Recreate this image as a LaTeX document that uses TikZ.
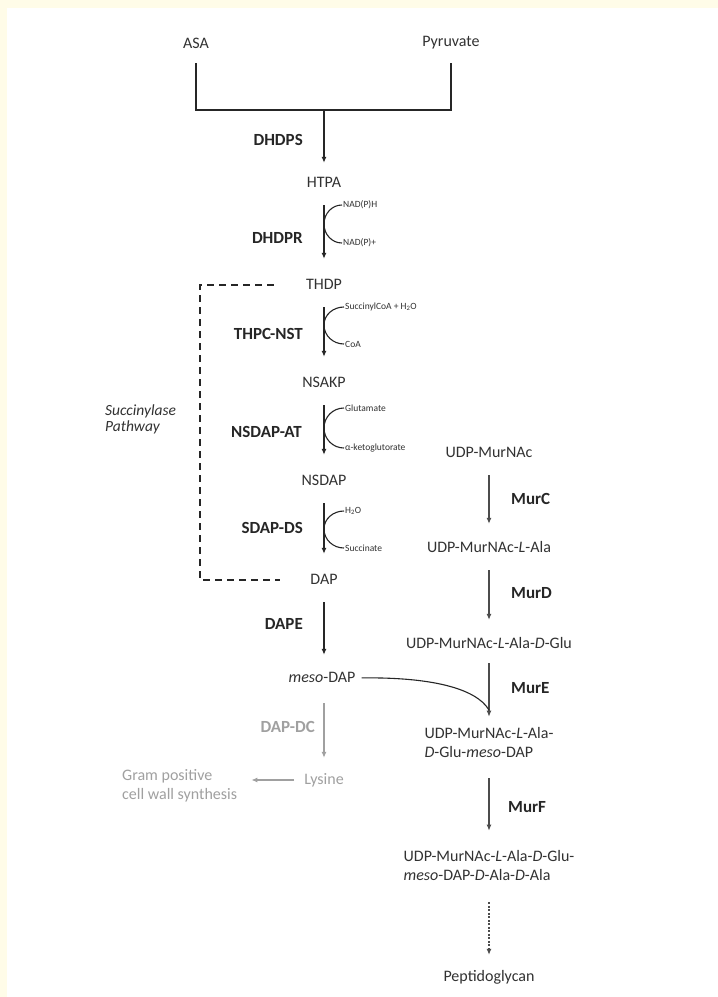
\documentclass[tikz,border=0pt]{standalone}
\usepackage{fontspec}
\setmainfont{Carlito}
\usepackage{tikz}
\usetikzlibrary{positioning,arrows.meta}

\definecolor{cream}{RGB}{255,252,232}
\definecolor{ink}{RGB}{50,50,50}
\definecolor{faded}{RGB}{160,160,160}

\begin{document}
\begin{tikzpicture}[x=1pt, y=-1pt, >={Latex[length=6pt,width=5pt]},
    metab/.style={inner sep=0pt, text height=11pt, text depth=3pt,
                  font=\fontsize{16}{19}\selectfont, text=ink},
    enzyme/.style={inner sep=0pt, anchor=east,
                   font=\fontsize{17}{19}\selectfont\bfseries, text=black!85},
    cofac/.style={inner sep=1pt, anchor=west,
                  font=\fontsize{9.5}{11}\selectfont, text=ink},
    rxn/.style={->, line width=1.5pt, black!85, shorten <=15pt, shorten >=19pt},
    murrxn/.style={->, line width=1.1pt, black!70, shorten <=15pt, shorten >=17pt},
    side/.style={line width=1.1pt, black!85}]
  \useasboundingbox (0,0) rectangle (718,997);
  \fill[white] (0,0) rectangle (718,997);
  \fill[cream] (0,0) rectangle (718,8);
  \fill[cream] (0,0) rectangle (7,997);

  % substrates
  \node (asa) [metab] at (196,44) {ASA};
  \node (pyr) [metab] at (451,42) {Pyruvate};
  \coordinate (join) at (324,110);
  \draw[line width=1.5pt, black!85, shorten <=12pt, shorten >=14pt]
    (asa.south) |- (join) -| (pyr.south);

  % DAP pathway
  \node (htpa)  [metab] at (324,183) {HTPA};
  \node (thdp)  [metab] at (324,285) {THDP};
  \node (nsakp) [metab] at (324,383) {NSAKP};
  \node (nsdap) [metab] at (324,481) {NSDAP};
  \node (dap)   [metab] at (324,580) {DAP};
  \node (mdap)  [metab] at (322,678) {\textit{meso}-DAP};
  \node (lys)   [metab, text=faded] at (324,780) {Lysine};
  \node (gram)  [metab, text=faded, anchor=west, align=left,
                 text height=, text depth=] at (122,786)
    {Gram positive\\cell wall synthesis};

  \draw[rxn, shorten <=0pt, shorten >=13pt] (join) -- (htpa);
  \draw[rxn] (htpa) -- (thdp);
  \draw[rxn] (thdp) -- (nsakp);
  \draw[rxn] (nsakp) -- (nsdap);
  \draw[rxn] (nsdap) -- (dap);
  \draw[rxn, shorten >=16pt] (dap) -- (mdap.north -| dap);
  \draw[rxn, faded, shorten <=18pt, shorten >=15pt] (mdap.south -| dap) -- (lys);
  \draw[->, line width=1.5pt, faded, shorten <=10pt, shorten >=14pt]
    (lys.west) -- (gram.east |- lys.west);

  % enzymes
  \node (dhdps)   [enzyme] at (303,140) {DHDPS};
  \node (dhdpr)   [enzyme] at (303,238) {DHDPR};
  \node (thpcnst) [enzyme] at (303,334) {THPC-NST};
  \node (nsdapat) [enzyme] at (302,432) {NSDAP-AT};
  \node (sdapds)  [enzyme] at (303,528) {SDAP-DS};
  \node (dape)    [enzyme] at (303,624) {DAPE};
  \node (dapdc)   [enzyme, text=faded] at (315,727) {DAP-DC};

  % co-substrates
  \node (nadh)  [cofac] at (342,205) {NAD(P)H};
  \node (nadp)  [cofac] at (342,243) {NAD(P)+};
  \node (succoa)[cofac] at (344,307) {SuccinylCoA + H\textsubscript{2}O};
  \node (coa)   [cofac] at (344,344) {CoA};
  \node (glu)   [cofac] at (344,408) {Glutamate};
  \node (akg)   [cofac] at (344,448) {α-ketoglutorate};
  \node (water) [cofac] at (344,511) {H\textsubscript{2}O};
  \node (succ)  [cofac] at (344,548) {Succinate};
  \coordinate (c1) at (324,224);
  \coordinate (c2) at (324,325);
  \coordinate (c3) at (324,428);
  \coordinate (c4) at (324,529);
  \draw[side] (nadh.west) to[out=180,in=90] (c1) to[out=-90,in=180] (nadp.west);
  \draw[side] (succoa.west) to[out=180,in=90] (c2) to[out=-90,in=180] (coa.west);
  \draw[side] (glu.west) to[out=180,in=90] (c3) to[out=-90,in=180] (akg.west);
  \draw[side] (water.west) to[out=180,in=90] (c4) to[out=-90,in=180] (succ.west);

  % succinylase bracket
  \coordinate (sbend) at (200,430);
  \draw[line width=1.7pt, black!85, dash pattern=on 7pt off 5pt,
        shorten <=32pt, shorten >=30pt]
    (thdp.west) -| (sbend) |- (dap.west);
  \node (spath) [anchor=west, align=left, inner sep=0pt, text=ink,
                 font=\fontsize{15.5}{16}\selectfont\itshape] at (105,419)
    {Succinylase\\Pathway};

  % Mur ligases
  \node (udp0) [metab] at (489,453) {UDP-MurNAc};
  \node (udp1) [metab] at (489,548) {UDP-MurNAc-\textit{L}-Ala};
  \node (udp2) [metab] at (489,644) {UDP-MurNAc-\textit{L}-Ala-\textit{D}-Glu};
  \node (udp3) [metab, align=left, text height=, text depth=] at (489,742)
    {UDP-MurNAc-\textit{L}-Ala-\\\textit{D}-Glu-\textit{meso}-DAP};
  \node (udp4) [metab, align=left, text height=, text depth=] at (489,865)
    {UDP-MurNAc-\textit{L}-Ala-\textit{D}-Glu-\\\textit{meso}-DAP-\textit{D}-Ala-\textit{D}-Ala};
  \node (pgn)  [metab] at (489,977) {Peptidoglycan};

  \node (murc) [enzyme, anchor=west] at (511,499) {MurC};
  \node (murd) [enzyme, anchor=west] at (511,593) {MurD};
  \node (mure) [enzyme, anchor=west] at (511,688) {MurE};
  \node (murf) [enzyme, anchor=west] at (508,807) {MurF};

  \draw[murrxn] (udp0) -- (udp1);
  \draw[murrxn] (udp1) -- (udp2);
  \draw[murrxn, shorten <=12pt, shorten >=10pt] (udp2) -- (udp3);
  \draw[murrxn, shorten <=21pt, shorten >=19pt] (udp3) -- (udp4);
  \draw[murrxn, dash pattern=on 2pt off 1.5pt, shorten <=22pt, shorten >=15pt]
    (udp4) -- (pgn);

  % meso-DAP into MurE step
  \coordinate (mein) at (489,710);
  \draw[line width=1.1pt, black!85, shorten <=6pt]
    (mdap.east) .. controls (430,677) and (476,688) .. (mein);
\end{tikzpicture}
\end{document}
